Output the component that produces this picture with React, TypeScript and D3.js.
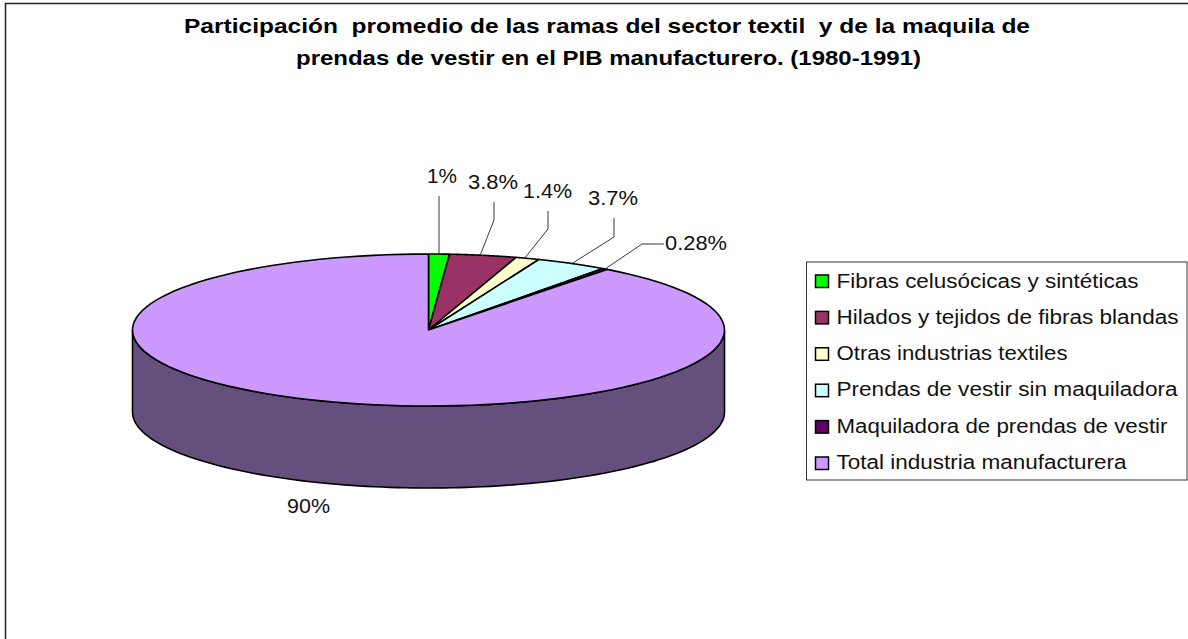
import React from "react";
import * as d3 from "d3";

const categories = ["Fibras celusócicas y sintéticas", "Hilados y tejidos de fibras blandas", "Otras industrias textiles", "Prendas de vestir sin maquiladora", "Maquiladora de prendas de vestir", "Total industria manufacturera"];
const values = [1.13, 3.65, 1.3, 3.95, 0.28, 89.69];
const valueLabels = ["1%", "3.8%", "1.4%", "3.7%", "0.28%", "90%"];
const colors = ["#00FF00", "#993366", "#FFFFCC", "#CCFFFF", "#660066", "#CC99FF"];
const titleLines = ["Participación  promedio de las ramas del sector textil  y de la maquila de", "prendas de vestir en el PIB manufacturero. (1980-1991)"];

const W = 1188, H = 639;
const cx = 428.5, cy = 330, rx = 296, ry = 76, depth = 82;
const sideColor = "#654F7D";
const titlePos = [{ x: 184, y: 33, w: 846 }, { x: 296, y: 65, w: 625 }];
const labelPos = [
  { x: 427, y: 182.5, w: 30 }, { x: 468, y: 189, w: 50 }, { x: 523, y: 197.5, w: 49 }, { x: 588, y: 205, w: 50 }, { x: 665, y: 250, w: 62 }, { x: 287, y: 513, w: 43 },
];
const leaders: [number, number][][] = [
  [[439, 196], [439, 220]],
  [[494, 202], [494, 220]],
  [[548, 211], [548, 229]],
  [[614, 218], [614, 237]],
  [[664, 244], [642, 244]],
  [],
];
const anchorShift = [0, -3, -3, 0, 0, 0];
const legendWidths = [302, 342, 231, 341, 331, 290];

const px = (a: number, dy = 0): [number, number] => [cx + rx * Math.sin(a), cy - ry * Math.cos(a) + dy];
const line = d3.line<[number, number]>();
const sample = (a0: number, a1: number, dy = 0) => d3.range(0, 121).map((i) => px(a0 + ((a1 - a0) * i) / 120, dy));

export default function App() {
  const arcs = d3.pie<number>().sort(null)(values);
  const sidePts = [...sample(Math.PI / 2, 3 * Math.PI / 2, 0), ...sample(3 * Math.PI / 2, Math.PI / 2, depth)];
  return (
    <svg width={W} height={H} style={{ position: "absolute", left: 0, top: 0 }} fontFamily="'Liberation Sans', Arial, sans-serif">
      <rect x={0} y={0} width={W} height={H} fill="#fff" />
      <rect x={5.5} y={3.5} width={1200} height={660} fill="#fff" stroke="#222" strokeWidth={1.5} />
      {titleLines.map((t, i) => (
        <text key={i} x={titlePos[i].x} y={titlePos[i].y} fontSize={20.5} fontWeight="bold" fill="#000" textLength={titlePos[i].w} lengthAdjust="spacingAndGlyphs" xmlSpace="preserve">{t}</text>
      ))}
      <path d={line(sidePts) + "Z"} fill={sideColor} stroke="#000" strokeWidth={1.6} />
      {arcs.map((a, i) => (
        <path key={i} d={"M" + cx + "," + cy + "L" + sample(a.startAngle, a.endAngle).map((p) => p.join(",")).join("L") + "Z"} fill={colors[i]} stroke="#000" strokeWidth={1.6} strokeLinejoin="round" />
      ))}
      {arcs.map((a, i) => {
        if (!leaders[i].length) return null;
        const m = px((a.startAngle + a.endAngle) / 2);
        return <path key={i} d={line([...leaders[i], [m[0] + anchorShift[i], m[1]]]) as string} fill="none" stroke="#222" strokeWidth={0.9} />;
      })}
      {valueLabels.map((t, i) => (
        <text key={i} x={labelPos[i].x} y={labelPos[i].y} fontSize={20} fill="#111" textLength={labelPos[i].w} lengthAdjust="spacingAndGlyphs">{t}</text>
      ))}
      <rect x={806.5} y={262} width={380.5} height={218} fill="#fff" stroke="#333" strokeWidth={1} />
      {categories.map((c, i) => (
        <g key={i}>
          <rect x={815.5} y={275 + i * 36.4} width={13} height={12.5} fill={colors[i]} stroke="#000" strokeWidth={1.5} />
          <text x={836.5} y={287.5 + i * 36.3} fontSize={20} fill="#111" textLength={legendWidths[i]} lengthAdjust="spacingAndGlyphs">{c}</text>
        </g>
      ))}
    </svg>
  );
}
